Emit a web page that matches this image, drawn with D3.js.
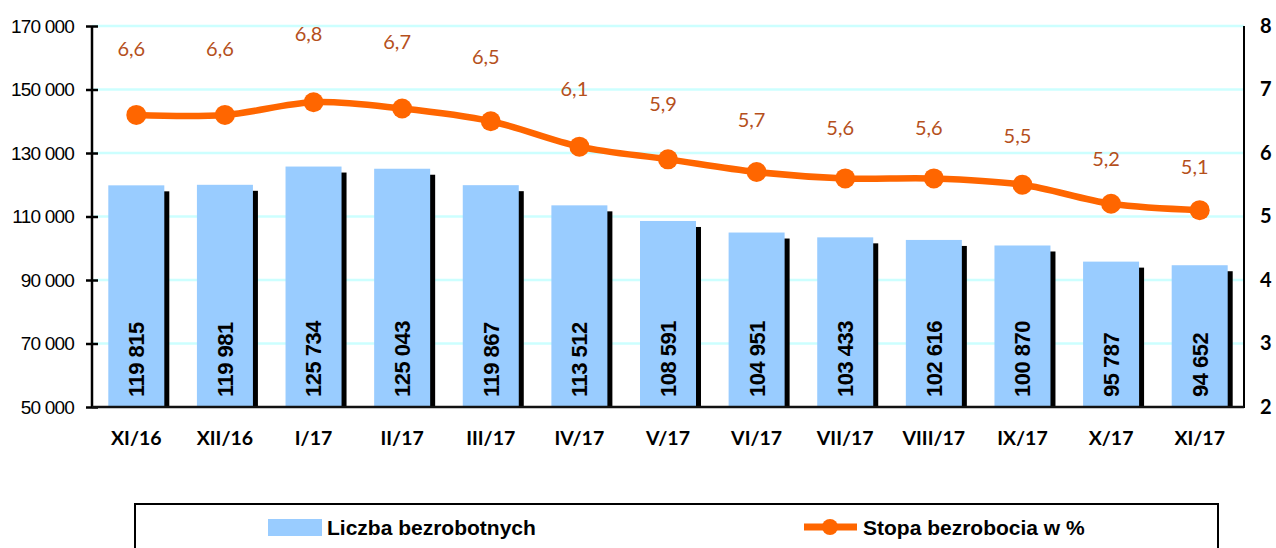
<!DOCTYPE html>
<html>
<head>
<meta charset="utf-8">
<script src="https://cdn.jsdelivr.net/npm/d3@7/dist/d3.min.js"></script>
<style>
  html, body { margin: 0; padding: 0; background: #ffffff; }
  svg { display: block; }
</style>
</head>
<body>
<script>
// Miesiące (oś kategorii)
const months = ["XI/16", "XII/16", "I/17", "II/17", "III/17", "IV/17", "V/17",
                "VI/17", "VII/17", "VIII/17", "IX/17", "X/17", "XI/17"];
// Liczba bezrobotnych
const unemployed = [119815, 119981, 125734, 125043, 119867, 113512, 108591,
                    104951, 103433, 102616, 100870, 95787, 94652];
// Stopa bezrobocia w %
const rate = [6.6, 6.6, 6.8, 6.7, 6.5, 6.1, 5.9, 5.7, 5.6, 5.6, 5.5, 5.2, 5.1];
// Podziałki osi
const leftTicks = [50000, 70000, 90000, 110000, 130000, 150000, 170000];
const rightTicks = [2, 3, 4, 5, 6, 7, 8];
const legendBars = "Liczba bezrobotnych";
const legendLine = "Stopa bezrobocia w %";

const W = 1276, H = 548;
const plot = { left: 92, right: 1244, top: 26, bottom: 407 };

const svg = d3.select("body").append("svg")
  .attr("width", W).attr("height", H);

const x = d3.scaleBand()
  .domain(months)
  .range([plot.left, plot.right])
  .paddingInner(0.368)
  .paddingOuter(0.184);

const yL = d3.scaleLinear().domain([50000, 170000]).range([plot.bottom, plot.top]);
const yR = d3.scaleLinear().domain([2, 8]).range([plot.bottom, plot.top]);

const fmtSpace = v => d3.format(",")(v).replace(/,/g, " ");
const fmtComma = v => d3.format(".1f")(v).replace(".", ",");

// Linie siatki
svg.append("g")
  .selectAll("line")
  .data(leftTicks.filter(t => t > 50000))
  .join("line")
  .attr("x1", plot.left).attr("x2", plot.right)
  .attr("y1", d => yL(d)).attr("y2", d => yL(d))
  .attr("stroke", "#ccffff")
  .attr("stroke-width", 2.5);

// Słupki z cieniem
const bars = svg.append("g");
const shadowDx = 5, shadowDy = 6;
bars.selectAll("rect.shadow")
  .data(unemployed)
  .join("rect")
  .attr("class", "shadow")
  .attr("x", (d, i) => x(months[i]) + shadowDx)
  .attr("y", d => yL(d) + shadowDy)
  .attr("width", x.bandwidth())
  .attr("height", d => plot.bottom - yL(d) - shadowDy)
  .attr("fill", "#000000");
bars.selectAll("rect.bar")
  .data(unemployed)
  .join("rect")
  .attr("class", "bar")
  .attr("x", (d, i) => x(months[i]))
  .attr("y", d => yL(d))
  .attr("width", x.bandwidth())
  .attr("height", d => plot.bottom - yL(d))
  .attr("fill", "#99ccff");

// Wartości na słupkach (pionowo)
const barFs = 22;
bars.selectAll("text")
  .data(unemployed)
  .join("text")
  .attr("transform", (d, i) =>
    `translate(${x(months[i]) + x.bandwidth() / 2 + 0.36 * barFs},${plot.bottom - 10}) rotate(-90)`)
  .attr("text-anchor", "start")
  .attr("font-family", "'Liberation Sans', Arial, sans-serif")
  .attr("font-weight", "bold")
  .attr("font-size", barFs)
  .attr("letter-spacing", "-0.5px")
  .attr("fill", "#000000")
  .text(d => fmtSpace(d));

// Oś lewa
const axL = svg.append("g")
  .attr("transform", `translate(${plot.left},0)`)
  .call(d3.axisLeft(yL).tickValues(leftTicks).tickSize(6).tickPadding(12).tickFormat(fmtSpace));
axL.select(".domain").remove();
axL.selectAll(".tick line").attr("x1", 6).attr("stroke", "#000").attr("stroke-width", 2.5);
axL.selectAll(".tick text")
  .attr("font-family", "'Liberation Sans', Arial, sans-serif")
  .attr("font-size", 19)
  .attr("letter-spacing", "-0.8px")
  .attr("fill", "#000");
svg.append("line")
  .attr("x1", plot.left).attr("x2", plot.left)
  .attr("y1", plot.top).attr("y2", plot.bottom + 1)
  .attr("stroke", "#000").attr("stroke-width", 2.5);

// Oś prawa
const axR = svg.append("g")
  .attr("transform", `translate(${plot.right},0)`)
  .call(d3.axisRight(yR).tickValues(rightTicks).tickSize(0).tickPadding(16).tickFormat(d3.format("d")));
axR.select(".domain").remove();
axR.selectAll(".tick text")
  .attr("font-family", "Lato, 'Open Sans', sans-serif")
  .attr("font-weight", "bold")
  .attr("font-size", 20)
  .attr("fill", "#000");
svg.append("line")
  .attr("x1", plot.right).attr("x2", plot.right)
  .attr("y1", plot.top).attr("y2", plot.bottom + 1)
  .attr("stroke", "#000").attr("stroke-width", 2);

// Oś dolna
const axB = svg.append("g")
  .attr("transform", `translate(0,${plot.bottom})`)
  .call(d3.axisBottom(x).tickSize(0).tickPadding(24));
axB.select(".domain").remove();
axB.selectAll(".tick text")
  .attr("font-family", "Lato, 'Open Sans', sans-serif")
  .attr("font-weight", "bold")
  .attr("font-size", 19.5)
  .attr("fill", "#000");
svg.append("line")
  .attr("x1", plot.left).attr("x2", plot.right)
  .attr("y1", plot.bottom).attr("y2", plot.bottom)
  .attr("stroke", "#111").attr("stroke-width", 2.5);

// Linia stopy bezrobocia
const cx = i => x(months[i]) + x.bandwidth() / 2;
const line = d3.line()
  .x((d, i) => cx(i))
  .y(d => yR(d))
  .curve(d3.curveCatmullRom.alpha(0.5));
svg.append("path")
  .datum(rate)
  .attr("d", line)
  .attr("fill", "none")
  .attr("stroke", "#ff6600")
  .attr("stroke-width", 6.5)
  .attr("stroke-linejoin", "round");
svg.append("g")
  .selectAll("circle")
  .data(rate)
  .join("circle")
  .attr("cx", (d, i) => cx(i))
  .attr("cy", d => yR(d))
  .attr("r", 10)
  .attr("fill", "#ff6600");

// Etykiety wartości stopy
const lift = v => 44 + 15 * (v - 5.1);
svg.append("g")
  .selectAll("text")
  .data(rate)
  .join("text")
  .attr("x", (d, i) => cx(i) - 5)
  .attr("y", d => yR(d) - lift(d))
  .attr("text-anchor", "middle")
  .attr("dominant-baseline", "central")
  .attr("font-family", "Lato, 'Open Sans', sans-serif")
  .attr("font-size", 20)
  .attr("fill", "#b5501c")
  .text(d => fmtComma(d));

// Legenda
const lg = svg.append("g");
lg.append("rect")
  .attr("x", 135).attr("y", 504)
  .attr("width", 1218 - 135).attr("height", 80)
  .attr("fill", "#fff")
  .attr("stroke", "#000").attr("stroke-width", 2);
lg.append("rect")
  .attr("x", 268).attr("y", 519)
  .attr("width", 54).attr("height", 17)
  .attr("fill", "#99ccff");
lg.append("text")
  .attr("x", 327).attr("y", 535)
  .attr("font-family", "'Liberation Sans', Arial, sans-serif")
  .attr("font-weight", "bold")
  .attr("font-size", 21)
  .attr("fill", "#000")
  .text(legendBars);
lg.append("line")
  .attr("x1", 804).attr("x2", 857)
  .attr("y1", 527).attr("y2", 527)
  .attr("stroke", "#ff6600").attr("stroke-width", 7);
lg.append("circle")
  .attr("cx", 830).attr("cy", 527).attr("r", 8)
  .attr("fill", "#ff6600");
lg.append("text")
  .attr("x", 863).attr("y", 535)
  .attr("font-family", "'Liberation Sans', Arial, sans-serif")
  .attr("font-weight", "bold")
  .attr("font-size", 21)
  .attr("fill", "#000")
  .text(legendLine);
</script>
</body>
</html>
